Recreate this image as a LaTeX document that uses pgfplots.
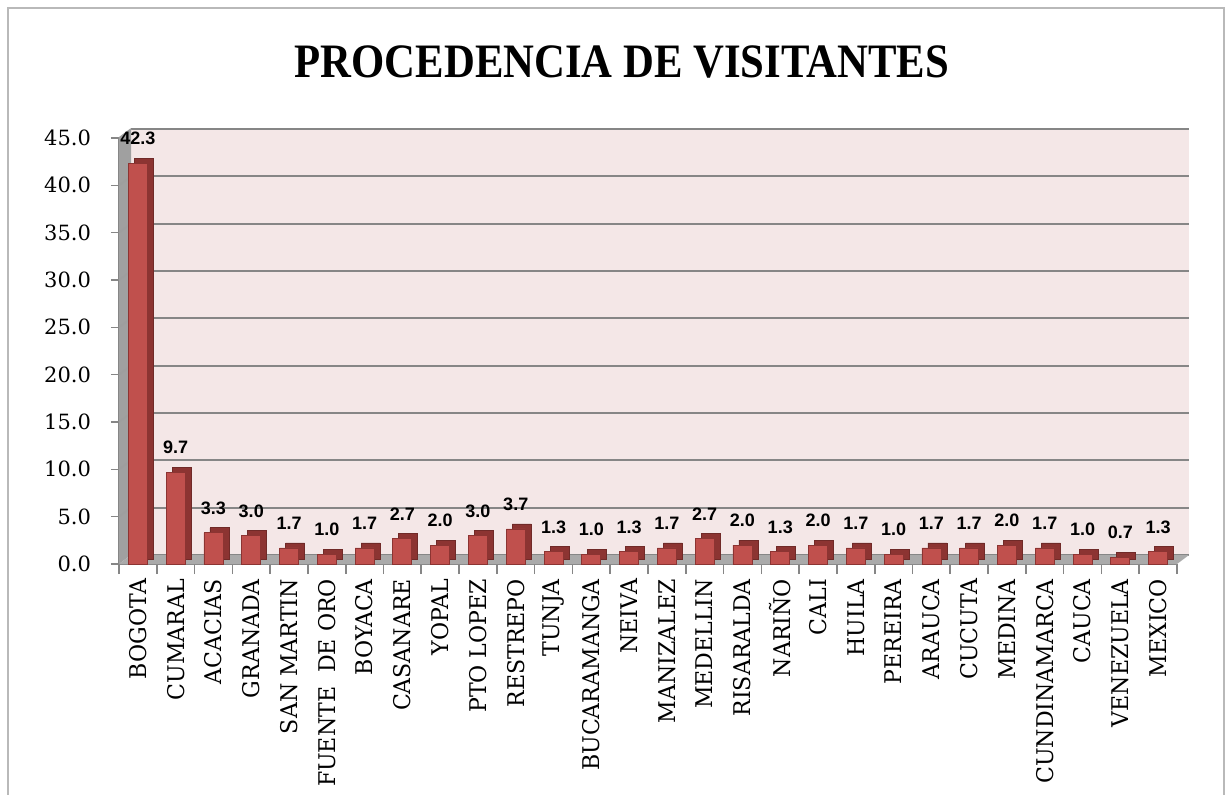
\documentclass[border=0pt]{standalone}
\usepackage{pgfplots}
\pgfplotsset{compat=1.18}
\usepackage{fontspec}
\setmainfont{DejaVu Serif}
\newfontfamily\titlefont[FakeStretch=0.89]{Liberation Serif}
\newfontfamily\xfont[FakeStretch=0.96]{DejaVu Serif}
\newfontfamily\valfont{Liberation Sans}
\definecolor{barfront}{RGB}{192,80,77}
\definecolor{barside}{RGB}{140,52,50}
\definecolor{wallpink}{RGB}{244,231,231}
\definecolor{gridgray}{RGB}{134,134,134}
\definecolor{floorgray}{RGB}{170,170,170}
\definecolor{wallgray}{RGB}{160,160,160}
\begin{document}
\begin{tikzpicture}
\useasboundingbox (0,0) rectangle (616pt,397pt);
\draw[gray!55, line width=0.8pt] (4pt,-5pt) -- (4pt,393pt) -- (612pt,393pt) -- (612pt,-5pt);
\node[font={\titlefont\bfseries\fontsize{24pt}{28pt}\selectfont}] at (311pt,366pt) {PROCEDENCIA DE VISITANTES};
\begin{axis}[
  at={(65.5pt,119.5pt)}, anchor=south west,
  scale only axis, width=529pt, height=213pt,
  xmin=-0.5, xmax=27.5, ymin=0, ymax=45,
  axis lines*=left,
  axis line style={gridgray, line width=0.8pt},
  axis background/.style={fill=wallpink, xshift=6pt, yshift=4.5pt},
  ymajorgrids,
  major grid style={gridgray, line width=0.9pt, xshift=6pt, yshift=4.5pt},
  ytick={0,5,...,45},
  yticklabel style={/pgf/number format/fixed, /pgf/number format/fixed zerofill, /pgf/number format/precision=1, /pgf/number format/assume math mode=true},
  y tick label style={font=\fontsize{10.5pt}{12pt}\selectfont, xshift=-6.5pt},
  y tick style={gridgray, line width=0.8pt},
  tick align=outside,
  major tick length=4pt,
  xtick={0,...,27},
  major x tick style={draw=none},
  minor xtick={-0.5,0.5,...,27.5},
  minor x tick style={gridgray, line width=0.8pt},
  minor tick length=5pt,
  xticklabels={BOGOTA,CUMARAL,ACACIAS,GRANADA,SAN MARTIN,FUENTE\ \ DE ORO,BOYACA,CASANARE,YOPAL,PTO LOPEZ,RESTREPO,TUNJA,BUCARAMANGA,NEIVA,MANIZALEZ,MEDELLIN,RISARALDA,NARIÑO,CALI,HUILA,PEREIRA,ARAUCA,CUCUTA,MEDINA,CUNDINAMARCA,CAUCA,VENEZUELA,MEXICO},
  x tick label style={rotate=90, anchor=east, font=\xfont\fontsize{11.5pt}{13pt}\selectfont},
  clip=false,
  ybar, bar width=9.5pt,
]
% left wall
\fill[wallgray] (axis cs:-0.5,0) -- (axis cs:-0.5,45) -- ([xshift=6pt,yshift=4.5pt]axis cs:-0.5,45) -- ([xshift=6pt,yshift=4.5pt]axis cs:-0.5,0) -- cycle;
\pgfplotsinvokeforeach{5,10,...,45}{
  \draw[gridgray!80!white, line width=0.8pt] (axis cs:-0.5,#1) -- ([xshift=6pt,yshift=4.5pt]axis cs:-0.5,#1);
}
% floor
\fill[floorgray] (axis cs:-0.5,0) -- (axis cs:27.5,0) -- ([xshift=6pt,yshift=4.5pt]axis cs:27.5,0) -- ([xshift=6pt,yshift=4.5pt]axis cs:-0.5,0) -- cycle;
% bar depth
\addplot[fill=barside, draw=barside!80!black, bar shift=0pt, xshift=3pt, yshift=2.5pt, forget plot] coordinates {
(0,42.3) (1,9.7) (2,3.3) (3,3.0) (4,1.7) (5,1.0) (6,1.7) (7,2.7) (8,2.0) (9,3.0)
(10,3.7) (11,1.3) (12,1.0) (13,1.3) (14,1.7) (15,2.7) (16,2.0) (17,1.3) (18,2.0) (19,1.7)
(20,1.0) (21,1.7) (22,1.7) (23,2.0) (24,1.7) (25,1.0) (26,0.7) (27,1.3)};
% bar front
\addplot[fill=barfront, draw=barside, bar shift=0pt,
  nodes near coords,
  nodes near coords style={font=\valfont\bfseries\fontsize{9pt}{10pt}\selectfont, /pgf/number format/fixed, /pgf/number format/fixed zerofill, /pgf/number format/precision=1, /pgf/number format/assume math mode=true},
  every node near coord/.append style={anchor=south, inner sep=1pt, yshift=8pt}] coordinates {
(0,42.3) (1,9.7) (2,3.3) (3,3.0) (4,1.7) (5,1.0) (6,1.7) (7,2.7) (8,2.0) (9,3.0)
(10,3.7) (11,1.3) (12,1.0) (13,1.3) (14,1.7) (15,2.7) (16,2.0) (17,1.3) (18,2.0) (19,1.7)
(20,1.0) (21,1.7) (22,1.7) (23,2.0) (24,1.7) (25,1.0) (26,0.7) (27,1.3)};
\end{axis}
\end{tikzpicture}
\end{document}
